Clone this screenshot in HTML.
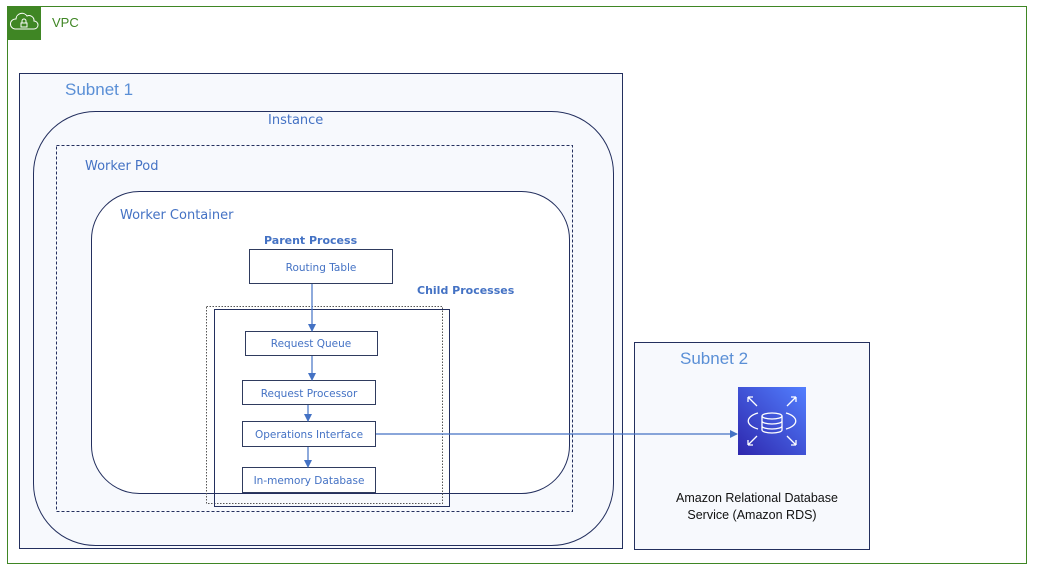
<!DOCTYPE html>
<html><head><meta charset="utf-8"><style>
html,body{margin:0;padding:0;background:#fff;}
svg{display:block;}
text{font-family:"Liberation Sans",sans-serif;}
.c{font-family:"DejaVu Sans","Liberation Sans",sans-serif;fill:#4472c4;}
</style></head><body>
<svg width="1046" height="576" viewBox="0 0 1046 576" xmlns="http://www.w3.org/2000/svg">
<defs><marker id="a" markerWidth="8" markerHeight="8" refX="7" refY="4" orient="auto" markerUnits="userSpaceOnUse"><path d="M0,0 L8,4 L0,8 z" fill="#4472c4"/></marker>
<linearGradient id="g" x1="0" y1="1" x2="1" y2="0"><stop offset="0" stop-color="#2e27ad"/><stop offset="1" stop-color="#527fff"/></linearGradient></defs>
<rect x="7.5" y="6.5" width="1019" height="557" fill="#fff" stroke="#3f8624" stroke-width="1"/>
<rect x="7" y="6" width="34" height="34" fill="#3f8624"/>
<path d="M15,29 h19 a4,4 0 0 0 0,-8 a5,5 0 0 0 -7,-5 a6,6 0 0 0 -11,3 a5,5 0 0 0 -1,10 z" fill="none" stroke="#fff" stroke-width="1"/>
<rect x="21" y="23" width="6" height="4" fill="none" stroke="#fff" stroke-width="1"/>
<path d="M22,23 v-2 a2,2 0 0 1 4,0 v2" fill="none" stroke="#fff" stroke-width="1"/>
<text x="52" y="27" font-size="13" fill="#3f8624">VPC</text>
<rect x="19.5" y="73.5" width="603" height="475" fill="#f7f9fd" stroke="#232f5e" stroke-width="1"/>
<text x="65" y="95" font-size="17" fill="#5a8fd6">Subnet 1</text>
<rect x="33.5" y="111.5" width="580" height="434" rx="62" fill="#f7f9fd" stroke="#232f5e" stroke-width="1"/>
<text x="268" y="124" font-size="13" class="c">Instance</text>
<rect x="56.5" y="145.5" width="516" height="366" fill="none" stroke="#232f5e" stroke-dasharray="3,2"/>
<text x="85" y="170" font-size="13" class="c">Worker Pod</text>
<rect x="91.5" y="191.5" width="478" height="302" rx="48" fill="#fff" stroke="#232f5e"/>
<text x="120" y="219" font-size="13" class="c">Worker Container</text>
<text x="264" y="244" font-size="11" font-weight="bold" class="c">Parent Process</text>
<rect x="249.5" y="249.5" width="143" height="34" fill="#fff" stroke="#2f3b5e"/>
<text x="321" y="271" font-size="10.5" class="c" text-anchor="middle">Routing Table</text>
<text x="417" y="294" font-size="11" font-weight="bold" class="c">Child Processes</text>
<rect x="206.5" y="306.5" width="236" height="197" fill="none" stroke="#555" stroke-dasharray="1.5,1.5"/>
<rect x="214.5" y="309.5" width="235" height="197" fill="none" stroke="#232f5e"/>
<rect x="245.5" y="331.5" width="132" height="24" fill="#fff" stroke="#2f3b5e"/>
<text x="311" y="347" font-size="10.5" class="c" text-anchor="middle">Request Queue</text>
<rect x="242.5" y="380.5" width="133" height="24" fill="#fff" stroke="#2f3b5e"/>
<text x="309" y="397" font-size="10.5" class="c" text-anchor="middle">Request Processor</text>
<rect x="242.5" y="421.5" width="133" height="25" fill="#fff" stroke="#2f3b5e"/>
<text x="309" y="438" font-size="10.5" class="c" text-anchor="middle">Operations Interface</text>
<rect x="242.5" y="467.5" width="133" height="25" fill="#fff" stroke="#2f3b5e"/>
<text x="309" y="484" font-size="10.5" class="c" text-anchor="middle">In-memory Database</text>
<rect x="634.5" y="342.5" width="235" height="207" fill="#f7f9fd" stroke="#232f5e"/>
<text x="680" y="364" font-size="17" fill="#5a8fd6">Subnet 2</text>
<g stroke="#4472c4" stroke-width="1.2" fill="none" marker-end="url(#a)">
<line x1="312" y1="284" x2="312" y2="331"/>
<line x1="312" y1="356" x2="312" y2="380"/>
<line x1="308" y1="405" x2="308" y2="421"/>
<line x1="308" y1="447" x2="308" y2="467"/>
<line x1="376" y1="434" x2="737" y2="434"/>
</g>
<rect x="738" y="387" width="68" height="68" fill="url(#g)"/>
<g stroke="#fff" stroke-width="1.3" fill="none">
<ellipse cx="772" cy="416" rx="10" ry="3"/>
<path d="M762,416 v14 a10,3 0 0 0 20,0 v-14 M762,421 a10,3 0 0 0 20,0 M762,426 a10,3 0 0 0 20,0"/>
<path d="M758,413 a18,9 0 0 0 0,16 M786,413 a18,9 0 0 1 0,16"/>
<path d="M748,397 l9,9 M748,397 h5 M748,397 v5 M796,397 l-9,9 M796,397 h-5 M796,397 v5 M748,445 l9,-9 M748,445 h5 M748,445 v-5 M796,445 l-9,-9 M796,445 h-5 M796,445 v-5"/>
</g>
<text x="757" y="502" font-size="12.5" fill="#111" text-anchor="middle">Amazon Relational Database</text>
<text x="752" y="519" font-size="12.5" fill="#111" text-anchor="middle">Service (Amazon RDS)</text>
</svg>
</body></html>
